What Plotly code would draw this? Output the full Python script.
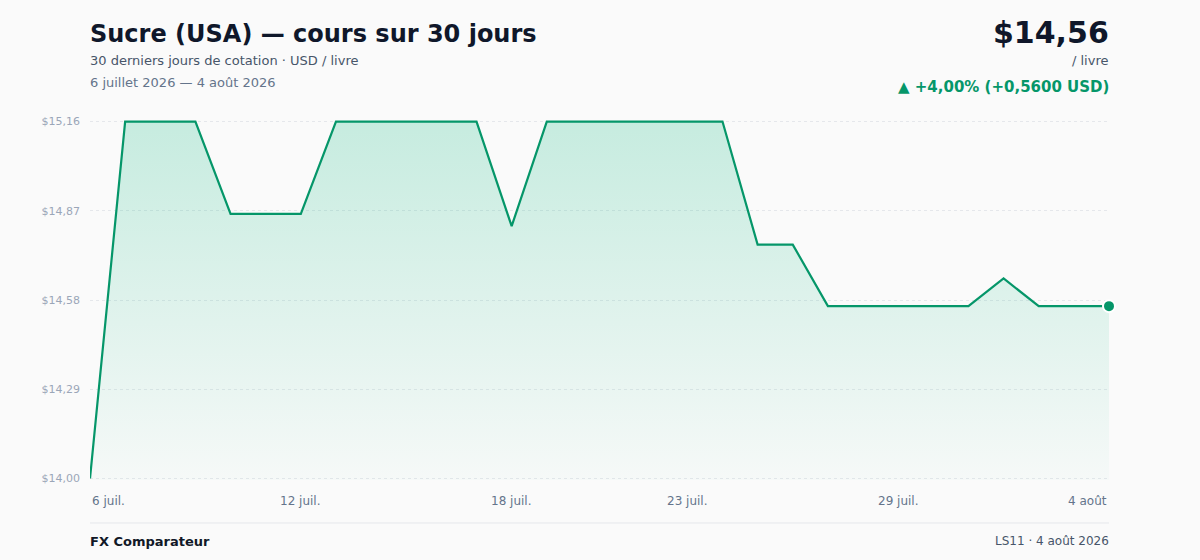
import plotly.graph_objects as go

# daily quotes, USD per pound
dates = [
    "2026-07-06", "2026-07-07", "2026-07-08", "2026-07-09", "2026-07-10",
    "2026-07-11", "2026-07-12", "2026-07-13", "2026-07-14", "2026-07-15",
    "2026-07-16", "2026-07-17", "2026-07-18", "2026-07-19", "2026-07-20",
    "2026-07-21", "2026-07-22", "2026-07-23", "2026-07-24", "2026-07-25",
    "2026-07-26", "2026-07-27", "2026-07-28", "2026-07-29", "2026-07-30",
    "2026-07-31", "2026-08-01", "2026-08-02", "2026-08-03", "2026-08-04",
]
prices = [
    14.00, 15.16, 15.16, 15.16, 14.86,
    14.86, 14.86, 15.16, 15.16, 15.16,
    15.16, 15.16, 14.82, 15.16, 15.16,
    15.16, 15.16, 15.16, 15.16, 14.76,
    14.76, 14.56, 14.56, 14.56, 14.56,
    14.56, 14.65, 14.56, 14.56, 14.56,
]

y_ticks = [14.00, 14.29, 14.58, 14.87, 15.16]
x_tick_dates = ["2026-07-06", "2026-07-12", "2026-07-18", "2026-07-23", "2026-07-29", "2026-08-04"]
x_tick_labels = ["6 juil.", "12 juil.", "18 juil.", "23 juil.", "29 juil.", "4 août"]

GREEN = "#059669"
FONT = "DejaVu Sans"

fig = go.Figure()
fig.add_trace(go.Scatter(
    x=dates, y=prices,
    mode="lines",
    line=dict(color=GREEN, width=2.2),
    fill="tozeroy",
    fillgradient=dict(
        type="vertical",
        start=14.0, stop=15.16,
        colorscale=[[0, "rgba(16,185,129,0.02)"], [1, "rgba(16,185,129,0.22)"]],
    ),
    hoverinfo="skip",
    showlegend=False,
))
fig.add_trace(go.Scatter(
    x=[dates[-1]], y=[prices[-1]],
    mode="markers",
    marker=dict(color=GREEN, size=12, line=dict(color="white", width=2)),
    cliponaxis=False,
    showlegend=False,
))

fig.update_layout(
    width=1200, height=560,
    margin=dict(l=90, r=91, t=120, b=80),
    paper_bgcolor="#fafafa",
    plot_bgcolor="#fafafa",
    font=dict(family=FONT, color="#64748b"),
    xaxis=dict(
        type="date",
        range=[dates[0], dates[-1]],
        showgrid=False, zeroline=False, showline=False,
        showticklabels=False,
    ),
    yaxis=dict(
        range=[13.995, 15.165],
        tickvals=y_ticks,
        ticktext=["$" + f"{v:.2f}".replace(".", ",") for v in y_ticks],
        tickfont=dict(size=11, color="#9aa6b8"),
        ticklabelstandoff=9,
        showgrid=True, gridcolor="#e5e7eb", griddash="dot", gridwidth=1,
        zeroline=False, showline=False,
    ),
)

anchors = ["left"] + ["center"] * (len(x_tick_labels) - 2) + ["right"]
for d, lab, anc in zip(x_tick_dates, x_tick_labels, anchors):
    fig.add_annotation(x=d, y=0, xref="x", yref="paper", text=lab, showarrow=False,
                       xanchor=anc, yanchor="top", yshift=-12,
                       font=dict(size=12, color="#64748b"))

# convert pixel positions to paper coords (plot area spans x 90..1109, y 120..480)
def py(ypx):
    return (480 - ypx) / 360

def px_(xpx):
    return (xpx - 90) / 1019

def txt(x, y, s, size, color, anchor="left", bold=False):
    fig.add_annotation(x=px_(x), y=py(y), xref="paper", yref="paper",
                       text=f"<b>{s}</b>" if bold else s, showarrow=False,
                       xanchor=anchor, yanchor="middle",
                       font=dict(family=FONT, size=size, color=color))

txt(88, 34, "Sucre (USA) — cours sur 30 jours", 24, "#0f172a", bold=True)
txt(88, 61, "30 derniers jours de cotation · USD / livre", 13, "#475569")
txt(88, 83, "6 juillet 2026 — 4 août 2026", 13, "#64748b")

txt(1111, 33, "$14,56", 30, "#0f172a", anchor="right", bold=True)
txt(1111, 61, "/ livre", 13, "#475569", anchor="right")
txt(1111, 87, "▲ +4,00% (+0,5600 USD)", 15, GREEN, anchor="right", bold=True)

fig.add_shape(type="line", xref="paper", yref="paper", x0=0, x1=1,
              y0=py(523), y1=py(523), line=dict(color="#e5e7eb", width=1))
txt(88, 541, "FX Comparateur", 13, "#111827", bold=True)
txt(1111, 541, "LS11 · 4 août 2026", 12, "#475569", anchor="right")

fig.write_html("out.html", config={"displayModeBar": False},
               post_script="document.body.style.margin='0';")
